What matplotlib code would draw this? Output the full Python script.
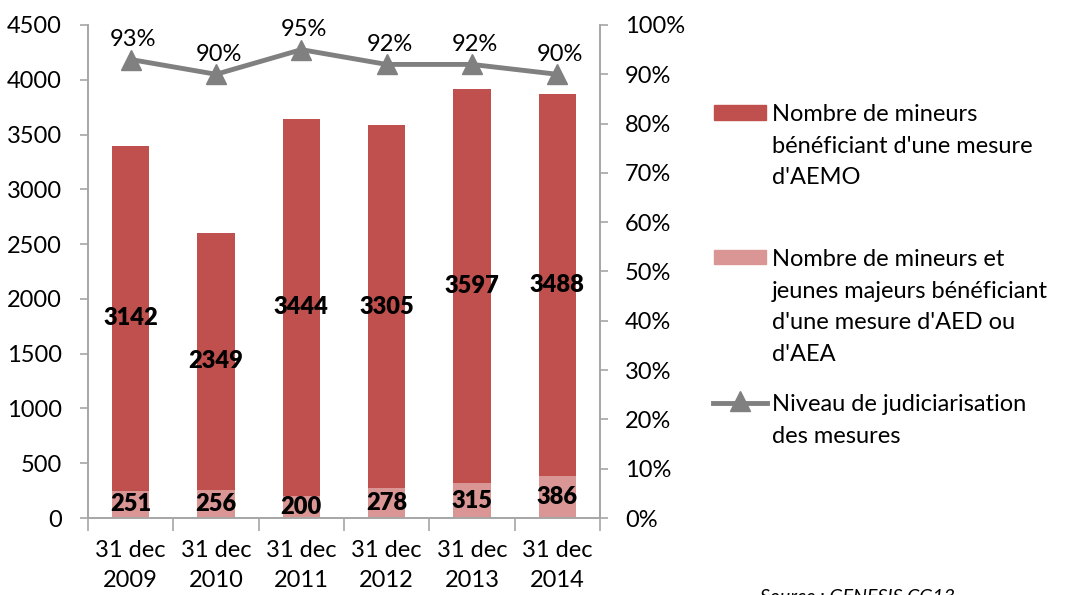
import matplotlib.pyplot as plt
from matplotlib.patches import Rectangle
from matplotlib.lines import Line2D

plt.rcParams['font.family'] = ['Lato', 'DejaVu Sans']

years = ['31 dec\n2009', '31 dec\n2010', '31 dec\n2011', '31 dec\n2012', '31 dec\n2013', '31 dec\n2014']
aed_aea = [251, 256, 200, 278, 315, 386]
aemo = [3142, 2349, 3444, 3305, 3597, 3488]
judic = [0.93, 0.90, 0.95, 0.92, 0.92, 0.90]
judic_labels = ['93%', '90%', '95%', '92%', '92%', '90%']

legend_labels = [
    "Nombre de mineurs\nbénéficiant d'une mesure\nd'AEMO",
    "Nombre de mineurs et\njeunes majeurs bénéficiant\nd'une mesure d'AED ou\nd'AEA",
    "Niveau de judiciarisation\ndes mesures",
]

dark_red = '#C0504D'
pink = '#D99694'
grey = '#808080'
axis_grey = '#A6A6A6'
fs = 17

fig = plt.figure(figsize=(10.67, 5.95), dpi=100)
ax = fig.add_axes([0.0825, 0.1294, 0.4798, 0.8286])
ax2 = ax.twinx()

x = list(range(len(years)))
ax.bar(x, aed_aea, width=0.44, color=pink, zorder=2)
ax.bar(x, aemo, width=0.44, bottom=aed_aea, color=dark_red, zorder=2)

for i in x:
    ax.text(i, aed_aea[i] / 2, str(aed_aea[i]), ha='center', va='center',
            fontsize=fs, fontweight='heavy', color='black', zorder=3)
    ax.text(i, aed_aea[i] + aemo[i] / 2, str(aemo[i]), ha='center', va='center',
            fontsize=fs, fontweight='heavy', color='black', zorder=3)

ax.set_xlim(-0.5, len(years) - 0.5)
ax.set_ylim(0, 4500)
ax.set_yticks(range(0, 4501, 500))
ax.set_xticks(x)
ax.set_xticklabels(years, fontsize=fs, linespacing=1.5)
ax.set_xticks([i - 0.5 for i in range(len(years) + 1)], minor=True)
ax.tick_params(axis='x', which='major', length=0, pad=16)
ax.tick_params(axis='x', which='minor', length=9, color=axis_grey, width=1.2)
ax.tick_params(axis='y', labelsize=fs, length=6, color=axis_grey, width=1.2, pad=13)

ax2.plot(x, judic, color=grey, linewidth=3.5, marker='^', markersize=14, zorder=4)
for i in x:
    ax2.annotate(judic_labels[i], (i, judic[i]), xytext=(2, 7), textcoords='offset points',
                 ha='center', va='bottom', fontsize=fs)
ax2.set_ylim(0, 1)
ax2.set_yticks([i / 10 for i in range(11)])
ax2.set_yticklabels([f'{i * 10}%' for i in range(11)])
ax2.tick_params(axis='y', labelsize=fs, length=6, color=axis_grey, width=1.2, pad=12)

for a in (ax, ax2):
    a.spines['top'].set_visible(False)
    for s in ('left', 'right', 'bottom'):
        a.spines[s].set_color(axis_grey)
        a.spines[s].set_linewidth(1.2)

# legend drawn by hand so the keys sit on the first line of each label
W, H = 1067, 595
fig.patches.append(Rectangle((714 / W, 1 - 120 / H), 52 / W, 15 / H, color=dark_red,
                             transform=fig.transFigure, figure=fig))
fig.patches.append(Rectangle((714 / W, 1 - 264 / H), 52 / W, 14 / H, color=pink,
                             transform=fig.transFigure, figure=fig))
fig.lines.append(Line2D([713 / W, 767 / W], [1 - 403 / H] * 2, color=grey, linewidth=3.5,
                        transform=fig.transFigure, figure=fig))
fig.lines.append(Line2D([740 / W], [1 - 401 / H], color=grey, marker='^', markersize=14,
                        transform=fig.transFigure, figure=fig))
for lab, ytop in zip(legend_labels, [104, 249, 394]):
    fig.text(772 / W, 1 - ytop / H, lab, fontsize=fs, va='top', ha='left', linespacing=1.62)

fig.text(760 / W, 1 - 589 / H, 'Source : GENESIS CG13', fontsize=14, style='italic',
         va='top', ha='left')

fig.savefig('out.png', dpi=100)
